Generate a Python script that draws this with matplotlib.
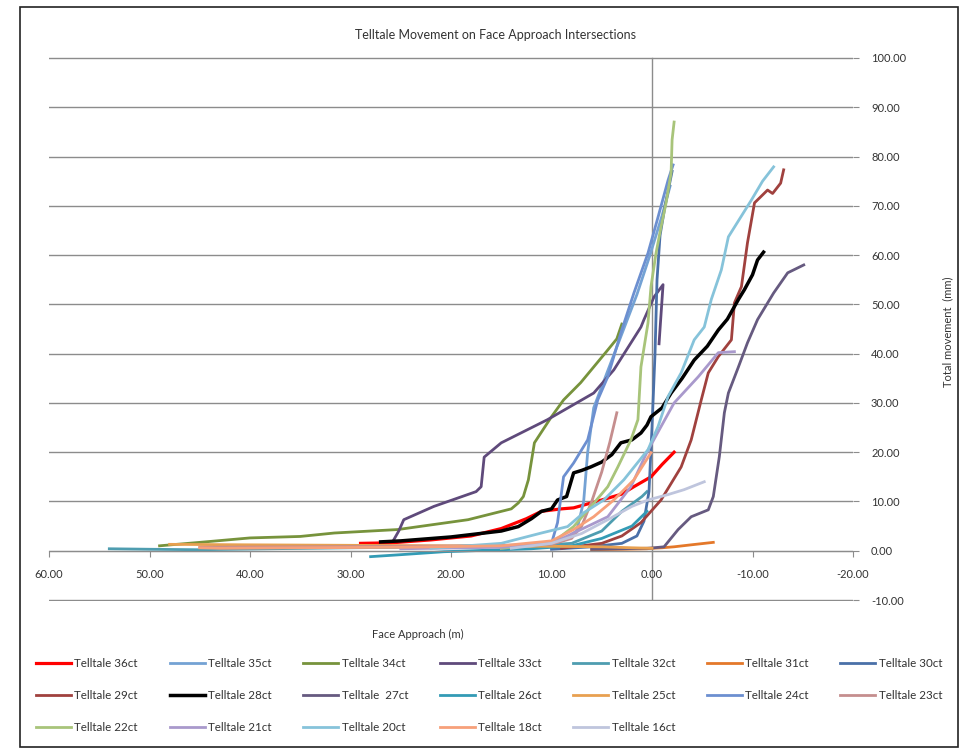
import matplotlib
matplotlib.use('Agg')
import matplotlib.pyplot as plt
from matplotlib.patches import Rectangle

plt.rcParams['font.family'] = ['Lato', 'DejaVu Sans']

# face approach (m) and total movement (mm)
x_36 = [29, 26, 22, 18, 15, 12.5, 11, 9, 7.8, 5, 3, 1.8, 0.1, -1, -2.2]
y_36 = [1.5, 1.6, 2.2, 3.0, 4.5, 6.5, 8.0, 8.5, 8.7, 10.3, 11.5, 13, 15, 17.5, 20]
x_35 = [40, 30, 20, 12, 9, 7.5, 6.8, 6.4, 5.8, 4.5, 3.0, 1.5, 0.2, -1.0, -1.8]
y_35 = [0.8, 0.8, 0.9, 1.2, 2, 4, 10, 20, 29, 36, 44, 52, 60, 68, 74]
x_34 = [49, 45, 40, 35, 31.6, 28, 25.3, 18.3, 14, 13.3, 12.8, 12.3, 11.7, 10, 8.8, 7.1, 5.8, 4.5, 3.5, 3.0]
y_34 = [1.0, 1.7, 2.6, 2.9, 3.6, 4.0, 4.3, 6.3, 8.5, 9.7, 11, 14.4, 21.9, 27.2, 30.6, 34.1, 37.3, 40.5, 43, 46]
x_33 = [25.7, 25.2, 24.7, 21.7, 17.5, 17, 16.7, 15, 10.4, 5.8, 3.8, 1.1, 0.8, -0.2, -1.1, -0.7]
y_33 = [2.2, 4, 6.3, 9, 12, 13, 19, 21.9, 26.6, 32, 36.7, 45.4, 46.9, 51.5, 54, 42]
x_32 = [54, 50, 45, 38, 30, 20, 12, 8, 5, 3, 1, 0.5]
y_32 = [0.4, 0.3, 0.2, 0.4, 0.6, 0.8, 1.0, 1.5, 4, 8, 11, 12]
x_31 = [6, 3, 0.5, 0, -1, -2.2, -3.9, -6.1]
y_31 = [0.2, 0.3, 0.4, 0.5, 0.6, 0.8, 1.2, 1.7]
x_30 = [10, 6, 3, 1.5, 0.8, 0.3, 0.0, -0.3, -0.5, -0.8, -1.3, -2.0]
y_30 = [0.3, 0.8, 1.5, 3, 6, 12, 25, 40, 55, 64, 70, 77]
x_29 = [9, 5, 3, 1.1, -0.9, -2.9, -3.9, -4.9, -5.6, -6.6, -7.9, -8.2, -8.9, -9.5, -10.2, -11.5, -12.0, -12.8, -13.1]
y_29 = [0.5, 1.5, 3, 5.7, 10.3, 17, 22.5, 30.6, 36.1, 39.4, 42.8, 50.3, 53.6, 62.5, 70.6, 73.2, 72.5, 74.6, 77.3]
x_28 = [27, 25, 20, 15, 13.3, 12, 11, 10, 9.4, 8.5, 7.8, 7, 6.1, 5, 4, 3.1, 2, 1.1, 0.5, 0.1,
        -1, -1.9, -3, -4.2, -5.5, -6.6, -7.5, -8.6, -9.2, -10, -10.5, -11.1]
y_28 = [1.8, 2.0, 2.8, 4.0, 4.9, 6.5, 8.0, 8.5, 10.3, 11, 15.8, 16.3, 17, 18, 19.5, 21.9, 22.5, 23.9, 25.5, 27.2,
        29, 32, 35, 38.7, 41.5, 44.8, 47, 51, 53, 56, 59, 60.6]
x_27 = [6, 3, 0.5, -0.2, -1.2, -2.6, -3.9, -5.6, -6.1, -6.7, -7.2, -7.6, -8.6, -9.5, -10.5, -12.1, -13.5, -15.1]
y_27 = [0.3, 0.4, 0.5, 0.6, 0.8, 4.3, 6.9, 8.3, 11, 19.1, 28, 32, 37.3, 42.2, 46.9, 52.3, 56.4, 58]
x_26 = [28, 25, 20.7, 15, 12, 8, 5, 2, 0.5]
y_26 = [-1.2, -0.8, -0.2, 0.2, 0.4, 1.0, 2.5, 5, 8]
x_25 = [48, 40, 30, 20, 10, 5, 2, 0]
y_25 = [1.3, 1.2, 1.1, 1.0, 0.9, 0.8, 0.6, 0.5]
x_24 = [15, 10, 9.4, 8.8, 7.8, 6.4, 5.4, 4.4, 3.1, 1.8, 0.4, -0.6, -1.6, -2.1]
y_24 = [0.5, 1.5, 5.7, 15, 17.8, 22.5, 30.6, 35.3, 44.2, 52.3, 60.4, 67.7, 75.2, 78.3]
x_23 = [45, 35, 25, 15, 10, 8, 7, 6, 5, 4.2, 3.5]
y_23 = [0.7, 0.8, 0.9, 1.0, 1.3, 2.5, 5, 10, 16, 22, 28]
x_22 = [15, 10, 7.8, 6.1, 4.4, 3.4, 2.1, 1.4, 1.1, 0.4, 0.1, -0.4, -0.9, -1.4, -1.9, -2.0, -2.2]
y_22 = [0.5, 1.5, 4.9, 8.9, 13, 17, 22.5, 26.6, 37.3, 46.2, 53.6, 60.4, 65.7, 70.6, 76.7, 83.4, 87]
x_21 = [25, 15, 10, 7.8, 4.4, 2.1, 0.5, -0.9, -2.2, -4.6, -6.6, -8.2]
y_21 = [0.4, 0.7, 1.5, 3.6, 6.9, 13, 20, 25.2, 30, 35.3, 40.2, 40.4]
x_20 = [22, 15, 11, 8.4, 6.8, 4.8, 2.8, 0.4, -0.6, -1.6, -2.9, -4.2, -5.2, -5.9, -6.9, -7.6, -9.9, -11, -12.1]
y_20 = [0.5, 1.5, 3.6, 4.9, 7.7, 10.3, 14.4, 20.5, 25.2, 31.3, 36.1, 42.8, 45.4, 51, 57, 63.7, 71.2, 75, 77.9]
x_18 = [45, 43, 35, 25, 15, 10, 7.8, 5.8, 3.8, 1.8, 0.1]
y_18 = [0.6, 0.5, 0.6, 0.7, 1, 2, 4.3, 6.9, 10.3, 14.4, 19.9]
x_16 = [14, 10, 7, 4.4, 2, 0.4, -1.6, -3.2, -5.2]
y_16 = [0.5, 1.5, 3.5, 6.3, 9, 10.3, 11.4, 12.4, 14]

names = ['Telltale 36ct', 'Telltale 35ct', 'Telltale 34ct', 'Telltale 33ct',
         'Telltale 32ct', 'Telltale 31ct', 'Telltale 30ct', 'Telltale 29ct',
         'Telltale 28ct', 'Telltale  27ct', 'Telltale 26ct', 'Telltale 25ct',
         'Telltale 24ct', 'Telltale 23ct', 'Telltale 22ct', 'Telltale 21ct',
         'Telltale 20ct', 'Telltale 18ct', 'Telltale 16ct']
xs = [x_36, x_35, x_34, x_33, x_32, x_31, x_30, x_29, x_28, x_27,
      x_26, x_25, x_24, x_23, x_22, x_21, x_20, x_18, x_16]
ys = [y_36, y_35, y_34, y_33, y_32, y_31, y_30, y_29, y_28, y_27,
      y_26, y_25, y_24, y_23, y_22, y_21, y_20, y_18, y_16]
colors = ['#ff0000', '#74a2d4', '#77933c', '#5f4a7b', '#4e9db0', '#e4782a',
          '#4a70a8', '#a0413e', '#000000', '#665a80', '#339bb5', '#e8a050',
          '#6c8fd0', '#c58e8e', '#a8c47a', '#a999cc', '#86c3da', '#f7a07a',
          '#bfc5dd']
widths = [2.3, 2.0, 2.0, 2.0, 2.0, 2.0, 2.0, 2.0, 2.5, 2.0,
          2.0, 2.0, 2.0, 2.0, 2.0, 2.0, 2.0, 2.0, 2.0]

grid_c = '#8c8c8c'
text_c = '#333333'

fig = plt.figure(figsize=(9.71, 7.55), dpi=100)
ax = fig.add_axes([49 / 971, 1 - 601 / 755, 804 / 971, 544 / 755])

lines = []
for n, x, y, c, w in zip(names, xs, ys, colors, widths):
    l, = ax.plot(x, y, color=c, lw=w, label=n, solid_joinstyle='round')
    lines.append(l)

ax.set_xlim(60, -20)
ax.set_ylim(-10.2, 100.2)
ax.set_axisbelow(True)

for s in ['left', 'right', 'top']:
    ax.spines[s].set_visible(False)
ax.spines['bottom'].set_position(('data', 0))
ax.spines['bottom'].set_color(grid_c)
ax.axvline(0, ymin=0.2 / 110.4, ymax=110.2 / 110.4, color=grid_c, lw=1, zorder=0.5)

xt = list(range(60, -21, -10))
ax.set_xticks(xt)
ax.set_xticklabels(['%.2f' % v for v in xt])
yt = list(range(-10, 101, 10))
ax.yaxis.tick_right()
ax.set_yticks(yt)
ax.set_yticklabels(['%.2f' % v for v in yt])
ax.grid(axis='y', color=grid_c, lw=1)
ax.tick_params(axis='x', direction='out', length=4, color=grid_c, pad=9,
               labelsize=8, labelcolor=text_c)
ax.tick_params(axis='y', direction='out', length=4, color=grid_c, pad=9,
               labelsize=8, labelcolor=text_c)

fig.text(495 / 971, 1 - 35 / 755, 'Telltale Movement on Face Approach Intersections',
         ha='center', va='center', fontsize=9, color=text_c)
fig.text(418 / 971, 1 - 634 / 755, 'Face Approach (m)', ha='center', va='center',
         fontsize=8, color=text_c)
fig.text(948 / 971, 1 - 332 / 755, 'Total movement  (mm)', ha='center', va='center',
         rotation=90, fontsize=8, color=text_c)

# matplotlib fills legend columns first, so reorder for row-wise reading
ncol = 7
order = []
for j in range(ncol):
    order += [k for k in range(j, len(lines), ncol)]
fig.legend([lines[k] for k in order], [names[k] for k in order],
           loc='upper left', bbox_to_anchor=(36 / 971, 1 - 658 / 755),
           ncol=ncol, frameon=False, fontsize=8.4, handlelength=3.0,
           handletextpad=0.3, columnspacing=2.7, labelspacing=1.8,
           borderpad=0, borderaxespad=0, labelcolor=text_c)

fig.patches.append(Rectangle((20 / 971, 8 / 755), 938 / 971, 740 / 755,
                             transform=fig.transFigure, fill=False,
                             edgecolor='#222222', lw=1.2))

fig.savefig('out.png', dpi=100)
